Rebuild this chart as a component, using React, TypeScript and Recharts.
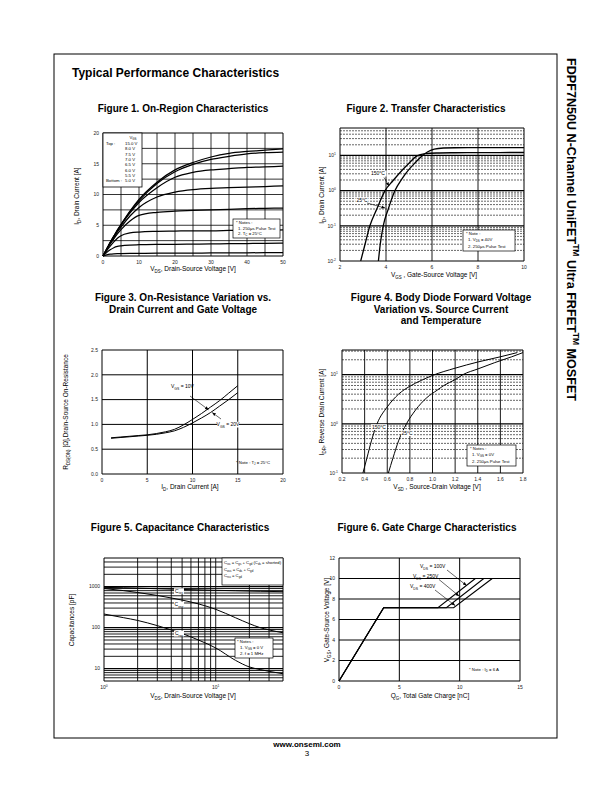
import React from "react";
import { LineChart, Line, XAxis, YAxis, ReferenceLine, ReferenceArea } from "recharts";

const FONT = "'Liberation Sans', Arial, Helvetica, sans-serif";

/* ---------------- Figure 1: On-Region Characteristics ---------------- */
const f1Vds = [0, 1, 2, 3, 4, 5, 7.5, 10, 15, 20, 25, 30, 35, 40, 45, 50];
const f1IdTop = [0, 1.1, 2.2, 3.2, 4.2, 5.1, 7.3, 9.2, 12.0, 14.0, 15.2, 16.1, 16.7, 17.0, 17.2, 17.4];
const f1Id2 = [0, 1.1, 2.2, 3.2, 4.2, 5.1, 7.2, 9.0, 11.8, 13.7, 14.9, 15.7, 16.2, 16.6, 16.8, 16.9];
const f1Id3 = [0, 1.1, 2.2, 3.2, 4.1, 5.0, 7.0, 8.7, 11.1, 12.8, 13.6, 14.0, 14.2, 14.4, 14.5, 14.6];
const f1Id4 = [0, 1.05, 2.1, 3.0, 3.9, 4.7, 6.5, 7.9, 9.6, 10.4, 10.8, 11.0, 11.1, 11.2, 11.3, 11.4];
const f1Id5 = [0, 1.0, 1.95, 2.8, 3.6, 4.3, 5.7, 6.6, 7.1, 7.3, 7.4, 7.5, 7.6, 7.7, 7.75, 7.8];
const f1Id6 = [0, 0.85, 1.6, 2.3, 2.9, 3.3, 3.75, 3.9, 4.0, 4.05, 4.1, 4.1, 4.15, 4.2, 4.2, 4.25];
const f1Id7 = [0, 0.55, 1.0, 1.35, 1.55, 1.65, 1.78, 1.83, 1.88, 1.9, 1.93, 1.96, 2.0, 2.03, 2.06, 2.1];
const f1IdBottom = [0, 0.18, 0.3, 0.36, 0.39, 0.4, 0.42, 0.43, 0.45, 0.46, 0.47, 0.49, 0.5, 0.52, 0.54, 0.56];
const f1VgsLabels = ["15.0 V", "8.0 V", "7.5 V", "7.0 V", "6.5 V", "6.0 V", "5.5 V", "5.0 V"];
const f1XTicks = [0, 10, 20, 30, 40, 50];
const f1YTicks = [0, 5, 10, 15, 20];
const f1GridX = [5, 10, 15, 20, 25, 30, 35, 40, 45];
const f1GridY = [2.5, 5, 7.5, 10, 12.5, 15, 17.5];

/* ---------------- Figure 2: Transfer Characteristics ---------------- */
const f2HotVgs = [2.9, 3.1, 3.3, 3.6, 3.96, 4.3, 4.7, 5.0, 5.33, 5.7, 6.2, 7.0, 8.0, 10.0];
const f2HotId = [0.01, 0.032, 0.1, 0.3, 1, 1.9, 3.8, 6.0, 9.5, 11.2, 11.7, 11.9, 12.0, 12.1];
const f2ColdVgs = [3.67, 3.75, 3.88, 4.1, 4.39, 4.7, 5.0, 5.3, 5.55, 5.8, 6.1, 6.5, 7.0, 8.0, 10.0];
const f2ColdId = [0.01, 0.03, 0.1, 0.3, 1, 2.2, 4.0, 6.5, 9.5, 12.5, 15.0, 16.2, 16.5, 16.6, 16.6];
const f2XTicks = [2, 4, 6, 8, 10];
const f2YTicks = [0.01, 0.1, 1, 10];
const f2GridX = [4, 6, 8];
const f2GridMajor = [0.1, 1, 10];
const f2GridMinor = [0.02, 0.03, 0.04, 0.05, 0.06, 0.07, 0.08, 0.09, 0.2, 0.3, 0.4, 0.5, 0.6, 0.7, 0.8, 0.9, 2, 3, 4, 5, 6, 7, 8, 9, 20, 30, 40, 50];

/* ---------------- Figure 3: On-Resistance ---------------- */
const f3Id = [1, 2, 3, 4, 5, 6, 7, 8, 9, 10, 11, 12, 13, 14, 15];
const f3R10 = [0.73, 0.745, 0.76, 0.775, 0.79, 0.815, 0.85, 0.9, 0.99, 1.1, 1.22, 1.35, 1.48, 1.63, 1.78];
const f3R20 = [0.72, 0.735, 0.75, 0.765, 0.78, 0.8, 0.83, 0.87, 0.94, 1.03, 1.13, 1.24, 1.37, 1.5, 1.64];
const f3XTicks = [0, 5, 10, 15, 20];
const f3YTicks = [0, 0.5, 1.0, 1.5, 2.0, 2.5];
const f3GridX = [5, 10, 15];
const f3GridY = [0.5, 1.0, 1.5, 2.0];

/* ---------------- Figure 4: Body Diode ---------------- */
const f4HotVsd = [0.385, 0.42, 0.46, 0.51, 0.6, 0.7, 0.8, 0.9, 1.0, 1.2, 1.4, 1.6, 1.75];
const f4HotIs = [0.1, 0.2, 0.45, 1, 2.2, 4, 5.8, 7.6, 9.6, 13.5, 18, 23, 28];
const f4ColdVsd = [0.61, 0.65, 0.7, 0.77, 0.85, 0.95, 1.04, 1.1, 1.2, 1.27, 1.4, 1.55, 1.7, 1.8];
const f4ColdIs = [0.1, 0.2, 0.45, 1, 1.9, 3.4, 4.8, 6, 7.9, 10, 13, 17.5, 23, 28];
const f4XTicks = [0.2, 0.4, 0.6, 0.8, 1.0, 1.2, 1.4, 1.6, 1.8];
const f4YTicks = [0.1, 1, 10];
const f4GridX = [0.4, 0.6, 0.8, 1.0, 1.2, 1.4, 1.6];
const f4GridMajor = [1, 10];
const f4GridMinor = [0.2, 0.3, 0.4, 0.5, 0.6, 0.7, 0.8, 0.9, 2, 3, 4, 5, 6, 7, 8, 9, 20, 30];

/* ---------------- Figure 5: Capacitance ---------------- */
const f5Vds = [1, 1.5, 2, 3, 4, 5, 7, 10, 15, 20, 25, 30, 40];
const f5Ciss = [960, 940, 920, 890, 870, 855, 835, 815, 795, 780, 770, 765, 755];
const f5Coss = [900, 800, 720, 610, 530, 470, 380, 280, 175, 125, 100, 88, 75];
const f5Crss = [215, 175, 150, 112, 88, 72, 50, 32, 16, 11, 9.5, 8.6, 7.5];
const f5XTicks = [1, 10];
const f5YTicks = [10, 100, 1000];
const f5GridX = [2, 3, 4, 5, 6, 7, 8, 9, 10, 20, 30];
const f5GridMajor = [10, 100, 1000];
const f5GridMinor = [6, 7, 8, 9, 20, 30, 40, 50, 60, 70, 80, 90, 200, 300, 400, 500, 600, 700, 800, 900, 2000, 3000, 4000];

/* ---------------- Figure 6: Gate Charge ---------------- */
const f6Q100 = [0, 3.7, 8.2, 11.3];
const f6Q250 = [0, 3.7, 8.9, 12.0];
const f6Q400 = [0, 3.7, 9.5, 12.7];
const f6Vgs = [0, 7.15, 7.15, 10];
const f6XTicks = [0, 5, 10, 15];
const f6YTicks = [0, 2, 4, 6, 8, 10, 12];
const f6GridX = [5, 10];
const f6GridY = [2, 4, 6, 8, 10];

/* ---------------- tables built from the arrays ---------------- */
const f1Rows = f1Vds.map((x, i) => ({
  x, a: f1IdTop[i], b: f1Id2[i], c: f1Id3[i], d: f1Id4[i], e: f1Id5[i], f: f1Id6[i], g: f1Id7[i], h: f1IdBottom[i],
}));
const pairs = (xs: number[], ys: number[]) => xs.map((x, i) => ({ x, y: ys[i] }));
const f2Hot = pairs(f2HotVgs, f2HotId);
const f2Cold = pairs(f2ColdVgs, f2ColdId);
const f3Rows = f3Id.map((x, i) => ({ x, r10: f3R10[i], r20: f3R20[i] }));
const f4Hot = pairs(f4HotVsd, f4HotIs);
const f4Cold = pairs(f4ColdVsd, f4ColdIs);
const f5Rows = f5Vds.map((x, i) => ({ x, ciss: f5Ciss[i], coss: f5Coss[i], crss: f5Crss[i] }));
const f6A = pairs(f6Q100, f6Vgs);
const f6B = pairs(f6Q250, f6Vgs);
const f6C = pairs(f6Q400, f6Vgs);

/* ---------------- helpers ---------------- */
const tickStyle = { fontSize: 5, fill: "#222", fontFamily: FONT };

const PowTickY = (p: any) => {
  const e = Math.round(Math.log10(p.payload.value));
  return (
    <text x={p.x} y={p.y + 1.8} textAnchor="end" fontSize={5} fontFamily={FONT} fill="#222">
      10<tspan dy={-2} fontSize={3.4}>{e}</tspan>
    </text>
  );
};
const PowTickX = (p: any) => {
  const e = Math.round(Math.log10(p.payload.value));
  return (
    <text x={p.x} y={p.y + 4} textAnchor="middle" fontSize={5} fontFamily={FONT} fill="#222">
      10<tspan dy={-2} fontSize={3.4}>{e}</tspan>
    </text>
  );
};

type Seg = string | { t: string; s: "sub" | "sup" };
const sub = (t: string): Seg => ({ t, s: "sub" });
const sup = (t: string): Seg => ({ t, s: "sup" });

function Rich(props: {
  x: number; y: number; size: number; segs: Seg[]; anchor?: string; rot?: number; bold?: boolean;
}) {
  const { x, y, size, segs, anchor = "start", rot = 0, bold = false } = props;
  let cur = 0;
  const parts = segs.map((sg, i) => {
    if (typeof sg === "string") {
      const el = <tspan key={i} dy={-cur} fontSize={size}>{sg}</tspan>;
      cur = 0;
      return el;
    }
    const off = sg.s === "sub" ? size * 0.3 : -size * 0.45;
    const el = <tspan key={i} dy={off - cur} fontSize={size * 0.68}>{sg.t}</tspan>;
    cur = off;
    return el;
  });
  return (
    <text
      x={x}
      y={y}
      fontSize={size}
      textAnchor={anchor as any}
      fontWeight={bold ? "bold" : "normal"}
      fontFamily={FONT}
      fill="#000"
      transform={rot ? `rotate(${rot} ${x} ${y})` : undefined}
    >
      {parts}
    </text>
  );
}

function NoteBox(props: { x: number; y: number; w: number; h: number; lines: { x: number; y: number; segs: Seg[] }[]; size?: number }) {
  const { x, y, w, h, lines, size = 4.3 } = props;
  return (
    <g>
      <rect x={x} y={y} width={w} height={h} fill="#fff" stroke="#000" strokeWidth={0.7} />
      {lines.map((l, i) => (
        <Rich key={i} x={l.x} y={l.y} size={size} segs={l.segs} />
      ))}
    </g>
  );
}

function Tag(props: { x: number; y: number; w: number; segs: Seg[]; size?: number }) {
  const { x, y, w, segs, size = 5 } = props;
  return (
    <g>
      <rect x={x - w / 2} y={y - size * 0.85} width={w} height={size * 1.15} fill="#fff" />
      <Rich x={x} y={y} size={size} segs={segs} anchor="middle" />
    </g>
  );
}

const Arrow = (p: { x1: number; y1: number; x2: number; y2: number }) => (
  <line x1={p.x1} y1={p.y1} x2={p.x2} y2={p.y2} stroke="#000" strokeWidth={0.6} markerEnd="url(#ah)" />
);

const gridV = (vals: number[], w = 0.9, dash?: string) =>
  vals.map((v) => (
    <ReferenceLine key={"gx" + v} x={v} stroke="#000" strokeWidth={w} strokeDasharray={dash} />
  ));
const gridH = (vals: number[], w = 0.9, dash?: string) =>
  vals.map((v) => (
    <ReferenceLine key={"gy" + v + (dash || "")} y={v} stroke="#000" strokeWidth={w} strokeDasharray={dash} />
  ));

const Box = (p: { left: number; top: number; children: any }) => (
  <div style={{ position: "absolute", left: p.left, top: p.top, zIndex: 1 }}>{p.children}</div>
);

const M = { top: 8, right: 8, left: 0, bottom: 0 };
const lineProps = { stroke: "#000", dot: false, isAnimationActive: false, activeDot: false } as any;

/* ---------------- figures ---------------- */
function Fig1() {
  const keys = ["a", "b", "c", "d", "e", "f", "g", "h"];
  return (
    <Box left={73} top={125}>
      <LineChart width={218} height={151} margin={M} data={f1Rows}>
        <XAxis type="number" dataKey="x" domain={[0, 50]} ticks={f1XTicks} interval={0} height={20}
          tick={tickStyle} tickLine={false} axisLine={false} tickSize={2} tickMargin={2} />
        <YAxis type="number" domain={[0, 20]} ticks={f1YTicks} interval={0} width={30}
          tick={tickStyle} tickLine={false} axisLine={false} tickSize={2} tickMargin={2} />
        {gridV(f1GridX, 0.8)}
        {gridH(f1GridY, 0.8)}
        <ReferenceArea x1={0} x2={50} y1={0} y2={20} fill="none" stroke="#000" strokeWidth={1} />
        {keys.map((k) => (
          <Line key={k} dataKey={k} type="monotone" strokeWidth={1.25} {...lineProps} />
        ))}
      </LineChart>
    </Box>
  );
}

function Fig2() {
  return (
    <Box left={310} top={120}>
      <LineChart width={222} height={161} margin={M}>
        <XAxis type="number" dataKey="x" domain={[2, 10]} ticks={f2XTicks} interval={0} height={20}
          tick={tickStyle} tickLine={false} axisLine={false} tickSize={2} tickMargin={2} allowDataOverflow />
        <YAxis type="number" scale="log" domain={[0.01, 60]} ticks={f2YTicks} interval={0} width={30}
          tick={<PowTickY />} tickLine={false} axisLine={false} tickSize={2} tickMargin={2} allowDataOverflow />
        {gridV(f2GridX, 0.9)}
        {gridH(f2GridMinor, 0.6, "2 1")}
        {gridH(f2GridMajor, 1.2)}
        <ReferenceArea x1={2} x2={10} y1={0.01} y2={60} fill="none" stroke="#000" strokeWidth={1} />
        <Line data={f2Hot} dataKey="y" type="monotone" strokeWidth={1.3} {...lineProps} />
        <Line data={f2Cold} dataKey="y" type="monotone" strokeWidth={1.3} {...lineProps} />
      </LineChart>
    </Box>
  );
}

function Fig3() {
  return (
    <Box left={72} top={342}>
      <LineChart width={219} height={152} margin={M} data={f3Rows}>
        <XAxis type="number" dataKey="x" domain={[0, 20]} ticks={f3XTicks} interval={0} height={20}
          tick={tickStyle} tickLine={false} axisLine={false} tickSize={2} tickMargin={2} />
        <YAxis type="number" domain={[0, 2.5]} ticks={f3YTicks} interval={0} width={30}
          tick={tickStyle} tickLine={false} axisLine={false} tickSize={2} tickMargin={2}
          tickFormatter={(v: number) => v.toFixed(1)} />
        {gridV(f3GridX, 1)}
        {gridH(f3GridY, 1)}
        <ReferenceArea x1={0} x2={20} y1={0} y2={2.5} fill="none" stroke="#000" strokeWidth={1} />
        <Line dataKey="r10" type="monotone" strokeWidth={1} {...lineProps} />
        <Line dataKey="r20" type="monotone" strokeWidth={1} {...lineProps} />
      </LineChart>
    </Box>
  );
}

function Fig4() {
  return (
    <Box left={312} top={342}>
      <LineChart width={219} height={151} margin={M}>
        <XAxis type="number" dataKey="x" domain={[0.2, 1.8]} ticks={f4XTicks} interval={0} height={20}
          tick={tickStyle} tickLine={false} axisLine={false} tickSize={2} tickMargin={2}
          tickFormatter={(v: number) => v.toFixed(1)} allowDataOverflow />
        <YAxis type="number" scale="log" domain={[0.1, 31.6]} ticks={f4YTicks} interval={0} width={30}
          tick={<PowTickY />} tickLine={false} axisLine={false} tickSize={2} tickMargin={2} allowDataOverflow />
        {gridV(f4GridX, 0.9)}
        {gridH(f4GridMinor, 0.6, "2 1")}
        {gridH(f4GridMajor, 1.2)}
        <ReferenceArea x1={0.2} x2={1.8} y1={0.1} y2={31.6} fill="none" stroke="#000" strokeWidth={1} />
        <Line data={f4Hot} dataKey="y" type="monotone" strokeWidth={1} {...lineProps} />
        <Line data={f4Cold} dataKey="y" type="monotone" strokeWidth={1} {...lineProps} />
      </LineChart>
    </Box>
  );
}

function Fig5() {
  return (
    <Box left={74} top={550}>
      <LineChart width={217} height={151} margin={M} data={f5Rows}>
        <XAxis type="number" dataKey="x" scale="log" domain={[1, 40]} ticks={f5XTicks} interval={0} height={20}
          tick={<PowTickX />} tickLine={false} axisLine={false} tickSize={2} tickMargin={2} allowDataOverflow />
        <YAxis type="number" scale="log" domain={[5, 5000]} ticks={f5YTicks} interval={0} width={30}
          tick={tickStyle} tickLine={false} axisLine={false} tickSize={2} tickMargin={2} allowDataOverflow />
        {gridV(f5GridX, 0.9)}
        {gridH(f5GridMinor, 0.9)}
        {gridH(f5GridMajor, 1.3)}
        <ReferenceArea x1={1} x2={40} y1={5} y2={5000} fill="none" stroke="#000" strokeWidth={1} />
        <Line dataKey="ciss" type="monotone" strokeWidth={1} {...lineProps} />
        <Line dataKey="coss" type="monotone" strokeWidth={1} {...lineProps} />
        <Line dataKey="crss" type="monotone" strokeWidth={1} {...lineProps} />
      </LineChart>
    </Box>
  );
}

function Fig6() {
  return (
    <Box left={309} top={550}>
      <LineChart width={219} height={151} margin={M}>
        <XAxis type="number" dataKey="x" domain={[0, 15]} ticks={f6XTicks} interval={0} height={20}
          tick={tickStyle} tickLine={false} axisLine={false} tickSize={2} tickMargin={2} />
        <YAxis type="number" domain={[0, 12]} ticks={f6YTicks} interval={0} width={30}
          tick={tickStyle} tickLine={false} axisLine={false} tickSize={2} tickMargin={2} />
        {gridV(f6GridX, 1)}
        {gridH(f6GridY, 1)}
        <ReferenceArea x1={0} x2={15} y1={0} y2={12} fill="none" stroke="#000" strokeWidth={1} />
        <Line data={f6A} dataKey="y" type="linear" strokeWidth={1.1} {...lineProps} />
        <Line data={f6B} dataKey="y" type="linear" strokeWidth={1.1} {...lineProps} />
        <Line data={f6C} dataKey="y" type="linear" strokeWidth={1.1} {...lineProps} />
      </LineChart>
    </Box>
  );
}

/* ---------------- page overlay (titles, labels, notes) ---------------- */
function Overlay() {
  const S = 6.5;
  return (
    <svg width={612} height={792} style={{ position: "absolute", left: 0, top: 0, zIndex: 2, pointerEvents: "none" }}>
      <defs>
        <marker id="ah" markerWidth={4} markerHeight={4} refX={3.6} refY={2} orient="auto" markerUnits="userSpaceOnUse">
          <path d="M0,0.4 L3.8,2 L0,3.6 z" fill="#000" />
        </marker>
      </defs>
      <rect x={54} y={54} width={503} height={684} fill="none" stroke="#000" strokeWidth={1} />
      <Rich x={72} y={77} size={12} bold segs={["Typical Performance Characteristics"]} />
      <Rich x={567} y={58} size={12.6} bold rot={90}
        segs={["FDPF7N50U N-Channel UniFET", sup("TM"), " Ultra FRFET", sup("TM"), " MOSFET"]} />
      <Rich x={307} y={747} size={8} bold anchor="middle" segs={["www.onsemi.com"]} />
      <Rich x={307} y={756} size={8} anchor="middle" segs={["3"]} />

      {/* Figure 1 */}
      <Rich x={183} y={112} size={10} bold anchor="middle" segs={["Figure 1. On-Region Characteristics"]} />
      <Rich x={79} y={196} size={S} rot={-90} anchor="middle" segs={["I", sub("D"), ", Drain Current [A]"]} />
      <Rich x={193} y={271} size={S} anchor="middle" segs={["V", sub("DS"), ", Drain-Source Voltage [V]"]} />
      <rect x={103} y={133} width={39} height={54} fill="#fff" stroke="#000" strokeWidth={0.8} />
      <Rich x={133} y={139} size={4.3} anchor="middle" segs={["V", sub("GS")]} />
      <Rich x={106} y={145} size={4.3} segs={["Top :"]} />
      <Rich x={106} y={182.1} size={4.3} segs={["Bottom :"]} />
      {f1VgsLabels.map((t, i) => (
        <Rich key={t} x={125} y={145 + i * 5.3} size={4.3} segs={[t]} />
      ))}
      <NoteBox x={233} y={219} w={47} h={19} lines={[
        { x: 236, y: 224, segs: ["* Notes :"] },
        { x: 238, y: 229.5, segs: ["1. 250\u03bcs Pulse Test"] },
        { x: 238, y: 235, segs: ["2. T", sub("C"), " = 25\u00b0C"] },
      ]} />

      {/* Figure 2 */}
      <Rich x={426} y={112} size={10} bold anchor="middle" segs={["Figure 2. Transfer Characteristics"]} />
      <Rich x={324} y={195} size={S} rot={-90} anchor="middle" segs={["I", sub("D"), ", Drain Current  [A]"]} />
      <Rich x={434} y={277} size={S} anchor="middle" segs={["V", sub("GS"), " , Gate-Source Voltage  [V]"]} />
      <NoteBox x={463} y={230} w={52} h={21} lines={[
        { x: 466, y: 235, segs: ["* Note :"] },
        { x: 468, y: 241, segs: ["1. V", sub("DS"), " = 40V"] },
        { x: 468, y: 247.5, segs: ["2. 250\u03bcs Pulse Test"] },
      ]} />
      <Tag x={378} y={175} w={17} segs={["150\u00b0C"]} />
      <Arrow x1={384} y1={177.5} x2={389} y2={186} />
      <Tag x={362} y={202} w={13} segs={["25\u00b0C"]} />
      <Arrow x1={367} y1={203} x2={385} y2={208} />

      {/* Figure 3 */}
      <Rich x={183} y={301} size={10} bold anchor="middle" segs={["Figure 3. On-Resistance Variation vs."]} />
      <Rich x={183} y={312.5} size={10} bold anchor="middle" segs={["Drain Current and Gate Voltage"]} />
      <Rich x={68} y={412} size={S} rot={-90} anchor="middle"
        segs={["R", sub("DS(ON)"), " [\u03a9],Drain-Source On-Resistance"]} />
      <Rich x={190} y={489} size={S} anchor="middle" segs={["I", sub("D"), ", Drain Current [A]"]} />
      <Rich x={171} y={388} size={5} segs={["V", sub("GS"), " = 10V"]} />
      <Tag x={228} y={426} w={22} segs={["V", sub("GS"), " = 20V"]} />
      <Arrow x1={190} y1={396} x2={208.5} y2={409.8} />
      <Arrow x1={221} y1={419} x2={212.3} y2={412.6} />
      <Rich x={236} y={464} size={4.3} segs={["* Note : T", sub("J"), " = 25\u00b0C"]} />

      {/* Figure 4 */}
      <Rich x={441} y={301} size={10} bold anchor="middle" segs={["Figure 4. Body Diode Forward Voltage"]} />
      <Rich x={441} y={312.5} size={10} bold anchor="middle" segs={["Variation vs. Source Current"]} />
      <Rich x={441} y={324} size={10} bold anchor="middle" segs={["and Temperature"]} />
      <Rich x={324} y={412} size={S} rot={-90} anchor="middle" segs={["I", sub("DR"), ", Reverse Drain Current  [A]"]} />
      <Rich x={437} y={489} size={S} anchor="middle" segs={["V", sub("SD"), " , Source-Drain Voltage  [V]"]} />
      <Tag x={379} y={428.5} w={16} segs={["150\u00b0C"]} />
      <Tag x={407} y={434.5} w={12} segs={["25\u00b0C"]} />
      <NoteBox x={467} y={445} w={49} h={21} lines={[
        { x: 470, y: 450, segs: ["* Notes :"] },
        { x: 472, y: 456, segs: ["1. V", sub("GS"), " = 0V"] },
        { x: 472, y: 462.5, segs: ["2. 250\u03bcs Pulse Test"] },
      ]} />

      {/* Figure 5 */}
      <Rich x={180} y={531} size={10} bold anchor="middle" segs={["Figure 5. Capacitance Characteristics"]} />
      <Rich x={74} y={620} size={S} rot={-90} anchor="middle" segs={["Capacitances [pF]"]} />
      <Rich x={193} y={698} size={S} anchor="middle" segs={["V", sub("DS"), ", Drain-Source Voltage [V]"]} />
      <NoteBox x={222} y={558} w={61} h={27} size={4.2} lines={[
        { x: 224, y: 564, segs: ["C", sub("iss"), " = C", sub("gs"), " + C", sub("gd"), " (C", sub("ds"), " = shorted)"] },
        { x: 224, y: 570.5, segs: ["C", sub("oss"), " = C", sub("ds"), " + C", sub("gd")] },
        { x: 224, y: 577, segs: ["C", sub("rss"), " = C", sub("gd")] },
      ]} />
      <NoteBox x={235} y={638} w={38} h={20} lines={[
        { x: 237, y: 643, segs: ["* Notes :"] },
        { x: 240, y: 648.5, segs: ["1. V", sub("GS"), " = 0 V"] },
        { x: 240, y: 654.5, segs: ["2. f = 1 MHz"] },
      ]} />
      <Tag x={179} y={592.5} w={10} segs={["C", sub("iss")]} />
      <Tag x={179} y={606} w={10} segs={["C", sub("oss")]} />
      <Tag x={179} y={635} w={10} segs={["C", sub("rss")]} />

      {/* Figure 6 */}
      <Rich x={427} y={531} size={10} bold anchor="middle" segs={["Figure 6. Gate Charge Characteristics"]} />
      <Rich x={329} y={620} size={S} rot={-90} anchor="middle" segs={["V", sub("GS"), ", Gate-Source Voltage [V]"]} />
      <Rich x={430} y={698} size={S} anchor="middle" segs={["Q", sub("G"), ", Total Gate Charge [nC]"]} />
      <Rich x={420} y={568} size={5} segs={["V", sub("DS"), " = 100V"]} />
      <Arrow x1={447} y1={570} x2={466.5} y2={585.5} />
      <Rich x={413} y={578} size={5} segs={["V", sub("DS"), " = 250V"]} />
      <Arrow x1={439} y1={579.5} x2={459} y2={596} />
      <Rich x={410} y={588} size={5} segs={["V", sub("DS"), " = 400V"]} />
      <Arrow x1={435} y1={590} x2={455} y2={605.5} />
      <Rich x={469} y={671} size={4.3} segs={["* Note : I", sub("D"), " = 6 A"]} />
    </svg>
  );
}

export default function App() {
  return (
    <div style={{ position: "absolute", left: 0, top: 0, width: 612, height: 792, background: "#fff", fontFamily: FONT }}>
      <Fig1 />
      <Fig2 />
      <Fig3 />
      <Fig4 />
      <Fig5 />
      <Fig6 />
      <Overlay />
    </div>
  );
}
